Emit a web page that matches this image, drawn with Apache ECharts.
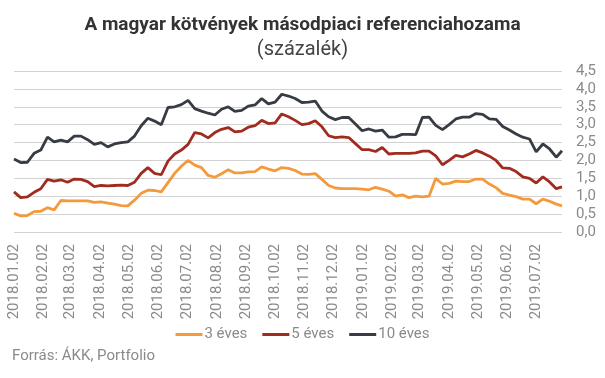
<!DOCTYPE html>
<html>
<head>
<meta charset="utf-8">
<script src="https://cdn.jsdelivr.net/npm/echarts@6/dist/echarts.min.js"></script>
<style>html,body{margin:0;padding:0;background:#fff}#c{width:605px;height:378px}</style>
</head>
<body>
<div id="c"></div>
<script>
const dates = ['2018-01-02','2018-01-09','2018-01-16','2018-01-23','2018-01-30','2018-02-06','2018-02-13','2018-02-20','2018-02-27','2018-03-06',
'2018-03-13','2018-03-20','2018-03-27','2018-04-03','2018-04-10','2018-04-17','2018-04-24','2018-05-01','2018-05-08','2018-05-15',
'2018-05-22','2018-05-29','2018-06-05','2018-06-12','2018-06-19','2018-06-26','2018-07-03','2018-07-10','2018-07-17','2018-07-24',
'2018-07-31','2018-08-07','2018-08-14','2018-08-21','2018-08-28','2018-09-04','2018-09-11','2018-09-18','2018-09-25','2018-10-02',
'2018-10-09','2018-10-16','2018-10-23','2018-10-30','2018-11-06','2018-11-13','2018-11-20','2018-11-27','2018-12-04','2018-12-11',
'2018-12-18','2018-12-25','2019-01-01','2019-01-08','2019-01-15','2019-01-22','2019-01-29','2019-02-05','2019-02-12','2019-02-19',
'2019-02-26','2019-03-05','2019-03-12','2019-03-19','2019-03-26','2019-04-02','2019-04-09','2019-04-16','2019-04-23','2019-04-30',
'2019-05-07','2019-05-14','2019-05-21','2019-05-28','2019-06-04','2019-06-11','2019-06-18','2019-06-25','2019-07-02','2019-07-09',
'2019-07-16','2019-07-23','2019-07-29'];

const y3 = [0.52,0.45,0.46,0.57,0.58,0.68,0.62,0.88,0.87,0.87,
0.87,0.87,0.83,0.84,0.81,0.78,0.74,0.73,0.89,1.08,
1.17,1.16,1.12,1.38,1.64,1.84,2.0,1.87,1.8,1.58,
1.53,1.63,1.74,1.65,1.65,1.68,1.69,1.82,1.76,1.71,
1.8,1.78,1.72,1.62,1.61,1.63,1.47,1.3,1.23,1.21,
1.21,1.21,1.2,1.18,1.25,1.2,1.14,1.0,1.04,0.96,
1.0,0.98,1.0,1.5,1.34,1.36,1.42,1.41,1.41,1.48,
1.48,1.34,1.24,1.08,1.03,0.99,0.92,0.92,0.79,0.92,
0.86,0.78,0.73];

const y5 = [1.12,0.96,0.98,1.11,1.21,1.47,1.42,1.46,1.39,1.48,
1.47,1.41,1.27,1.3,1.29,1.3,1.31,1.3,1.39,1.64,
1.8,1.64,1.6,1.98,2.18,2.29,2.45,2.78,2.74,2.63,
2.78,2.87,2.92,2.8,2.82,2.93,2.97,3.12,3.03,3.05,
3.3,3.22,3.12,3.0,3.03,3.11,2.94,2.69,2.64,2.66,
2.64,2.47,2.3,2.3,2.25,2.36,2.18,2.2,2.2,2.2,
2.21,2.26,2.26,2.13,1.88,2.0,2.14,2.1,2.18,2.28,
2.21,2.12,2.0,1.79,1.78,1.69,1.54,1.5,1.37,1.54,
1.4,1.21,1.26];

const y10 = [2.04,1.94,1.95,2.2,2.29,2.65,2.52,2.57,2.52,2.68,
2.68,2.58,2.45,2.5,2.38,2.46,2.5,2.52,2.68,2.97,
3.18,3.1,3.0,3.48,3.5,3.56,3.68,3.45,3.38,3.32,
3.27,3.43,3.5,3.37,3.4,3.52,3.55,3.73,3.58,3.63,
3.85,3.8,3.73,3.62,3.63,3.66,3.38,3.22,3.14,3.2,
3.2,3.02,2.83,2.88,2.82,2.85,2.65,2.66,2.73,2.73,
2.72,3.2,3.21,2.98,2.86,3.0,3.16,3.21,3.21,3.31,
3.29,3.16,3.15,2.95,2.85,2.74,2.65,2.6,2.24,2.46,
2.32,2.09,2.27];

const tickLabels = ['2018.01.02','2018.02.02','2018.03.02','2018.04.02','2018.05.02','2018.06.02','2018.07.02','2018.08.02','2018.09.02','2018.10.02','2018.11.02','2018.12.02','2019.01.02','2019.02.02','2019.03.02','2019.04.02','2019.05.02','2019.06.02','2019.07.02'];

const seriesNames = ['3 éves','5 éves','10 éves'];
const colors = ['#F59A3C','#A02B1F','#363B44'];

const DAY = 86400000;
function parseD(s){ const p = s.split(/[-.]/).map(Number); return Math.round(Date.UTC(p[0], p[1]-1, p[2]) / DAY); }
function pad(n){ return (n<10?'0':'')+n; }
function fmt(dayNum){ const d = new Date(Math.round(dayNum) * DAY); return d.getUTCFullYear()+'.'+pad(d.getUTCMonth()+1)+'.'+pad(d.getUTCDate()); }

const tickDays = tickLabels.map(parseD);
const xs = dates.map(parseD);
const mk = arr => xs.map((x,i)=>[x, arr[i]]);

const FONT = 'Roboto';
const GREY = '#8a8a8a';

const chart = echarts.init(document.getElementById('c'), null, {renderer:'canvas'});
chart.setOption({
  animation: false,
  backgroundColor: '#fff',
  title: [
    {text:'A magyar kötvények másodpiaci referenciahozama', left:'center', top:11,
     textStyle:{fontFamily:FONT, fontSize:19, fontWeight:'bold', color:'#333'}},
    {text:'(százalék)', left:'center', top:35,
     textStyle:{fontFamily:FONT, fontSize:20, fontWeight:'normal', color:'#444'}}
  ],
  grid: {left:14, right:43, top:71, bottom:146, containLabel:false},
  xAxis: {
    type:'value', min: xs[0], max: xs[xs.length-1],
    axisLine:{show:false}, axisTick:{show:false}, splitLine:{show:false},
    axisLabel:{customValues: tickDays, rotate:90, formatter: v=>fmt(v), color:GREY,
      fontFamily:FONT, fontSize:15, margin:12, hideOverlap:false, showMinLabel:true, showMaxLabel:true}
  },
  yAxis: {
    type:'value', position:'right', min:0, max:4.5, interval:0.5,
    axisLine:{show:false}, axisTick:{show:false},
    splitLine:{lineStyle:{color:'#d2d2d2', width:1}},
    axisLabel:{formatter: v=>v.toFixed(1).replace('.',','), color:GREY, fontFamily:FONT, fontSize:15, margin:14}
  },
  legend: {
    top:322, left:'center', icon:'rect', itemWidth:27, itemHeight:3, itemGap:15,
    textStyle:{fontFamily:FONT, fontSize:15, color:GREY, padding:[0,0,0,-3]},
    data: seriesNames
  },
  graphic: [{type:'text', left:12, top:349, style:{text:'Forrás: ÁKK, Portfolio', fill:GREY, font:'15px Roboto'}}],
  series: [
    {name:seriesNames[0], type:'line', data:mk(y3), symbol:'none', color:colors[0], lineStyle:{width:2.8, color:colors[0]}},
    {name:seriesNames[1], type:'line', data:mk(y5), symbol:'none', color:colors[1], lineStyle:{width:2.8, color:colors[1]}},
    {name:seriesNames[2], type:'line', data:mk(y10), symbol:'none', color:colors[2], lineStyle:{width:2.8, color:colors[2]}}
  ]
});
</script>
</body>
</html>
